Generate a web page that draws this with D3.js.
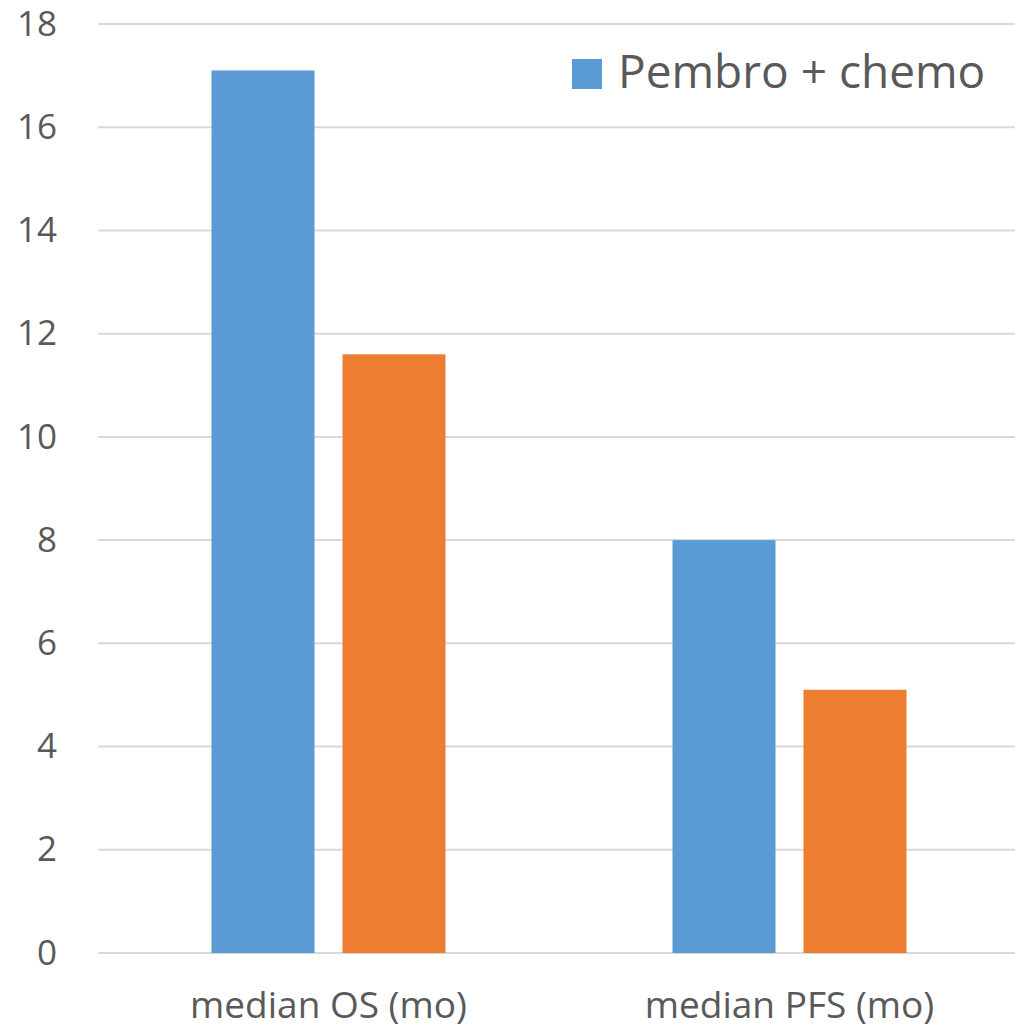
<!DOCTYPE html>
<html>
<head>
<meta charset="utf-8">
<script src="https://cdn.jsdelivr.net/npm/d3@7"></script>
<style>
  html, body { margin: 0; padding: 0; background: #fff; }
  svg { display: block; }
  text { font-family: "Open Sans", "Noto Sans", sans-serif; fill: #595959; }
</style>
</head>
<body>
<svg id="chart" width="1015" height="1028"></svg>
<script>
// Median survival outcomes (months)
const categories = ["median OS (mo)", "median PFS (mo)"];
const seriesNames = ["Pembro + chemo", "Chemo"];
const pembroChemo = [17.1, 8.0];
const chemoOnly = [11.6, 5.1];
const yTicks = [0, 2, 4, 6, 8, 10, 12, 14, 16, 18];
const colors = ["#5b9bd5", "#ed7d31"];

const svg = d3.select("#chart");
const margin = { left: 98, right: -5, top: 24, bottom: 75 };
const W = 1015, H = 1028;

const x0 = d3.scaleBand()
  .domain(categories)
  .range([margin.left, W - margin.right])
  .paddingInner(0.4924)
  .paddingOuter(0.2462);

const x1 = d3.scaleBand()
  .domain(seriesNames)
  .range([0, x0.bandwidth()])
  .paddingInner(0.2137);

const y = d3.scaleLinear()
  .domain([0, 18])
  .range([H - margin.bottom, margin.top]);

// gridlines
svg.append("g")
  .selectAll("line")
  .data(yTicks)
  .join("line")
  .attr("x1", margin.left)
  .attr("x2", W)
  .attr("y1", d => y(d))
  .attr("y2", d => y(d))
  .attr("stroke", "#d9d9d9")
  .attr("stroke-width", 2);

// y axis labels
const yAxis = svg.append("g")
  .attr("transform", `translate(${margin.left},0)`)
  .call(d3.axisLeft(y).tickValues(yTicks).tickSize(0).tickPadding(41).tickFormat(d3.format("d")));
yAxis.select(".domain").remove();
yAxis.selectAll("text")
  .style("font-size", "35px")
  .attr("fill", "#595959");

// bars
const rows = categories.map((c, i) => ({ cat: c, vals: [pembroChemo[i], chemoOnly[i]] }));
svg.append("g")
  .selectAll("g")
  .data(rows)
  .join("g")
  .attr("transform", d => `translate(${x0(d.cat)},0)`)
  .selectAll("rect")
  .data(d => d.vals.map((v, j) => ({ name: seriesNames[j], v, j })))
  .join("rect")
  .attr("x", d => x1(d.name))
  .attr("width", x1.bandwidth())
  .attr("y", d => y(d.v))
  .attr("height", d => y(0) - y(d.v))
  .attr("fill", d => colors[d.j]);

// category labels
const xAxis = svg.append("g")
  .attr("transform", `translate(0,${y(0)})`)
  .call(d3.axisBottom(x0).tickSize(0).tickPadding(39));
xAxis.select(".domain").remove();
xAxis.selectAll("text")
  .style("font-size", "37px")
  .attr("fill", "#595959");

// legend
const legend = svg.append("g").attr("transform", "translate(572,59)");
legend.append("rect")
  .attr("width", 30)
  .attr("height", 30)
  .attr("fill", colors[0]);
legend.append("text")
  .attr("x", 46)
  .attr("y", 29)
  .style("font-size", "46px")
  .text(seriesNames[0]);
</script>
</body>
</html>
